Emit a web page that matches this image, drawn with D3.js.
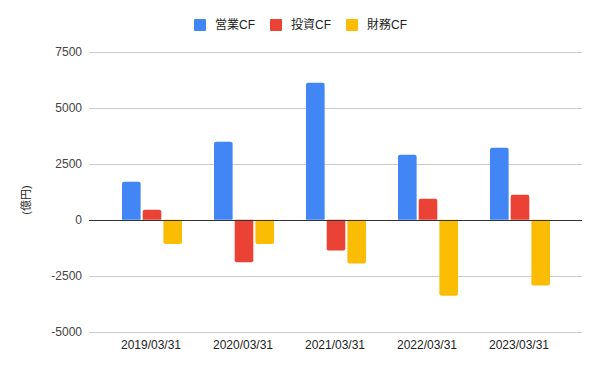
<!DOCTYPE html>
<html>
<head>
<meta charset="utf-8">
<script src="https://cdn.jsdelivr.net/npm/d3@7/dist/d3.min.js"></script>
<style>
  body { margin: 0; background: #fff; }
  text { font-family: "Liberation Sans", Arial, "Noto Sans CJK JP", sans-serif; }
</style>
</head>
<body>
<svg></svg>
<script>
var years = ["2019/03/31", "2020/03/31", "2021/03/31", "2022/03/31", "2023/03/31"];
var seriesNames = ["営業CF", "投資CF", "財務CF"];
var eigyo = [1700, 3480, 6110, 2900, 3210];
var toshi = [450, -1890, -1370, 940, 1120];
var zaimu = [-1080, -1080, -1950, -3380, -2930];
var yTicks = [-5000, -2500, 0, 2500, 5000, 7500];
var colors = ["#4285F4", "#EA4335", "#FBBC04"];

var width = 600, height = 371;
var plotLeft = 89, plotRight = 582;

var svg = d3.select("svg")
    .attr("width", width)
    .attr("height", height);

var y = d3.scaleLinear()
    .domain([-5000, 7500])
    .range([332, 51.5]);

var x = d3.scaleBand()
    .domain(years)
    .range([105, 565]);

var xs = d3.scaleBand()
    .domain([0, 1, 2])
    .range([17, 77])
    .paddingInner(0.1);

// gridlines
svg.append("g")
    .selectAll("line")
    .data(yTicks.filter(function(d) { return d != 0; }))
    .enter().append("line")
    .attr("x1", plotLeft)
    .attr("x2", plotRight)
    .attr("y1", function(d) { return Math.round(y(d)) + 0.5; })
    .attr("y2", function(d) { return Math.round(y(d)) + 0.5; })
    .attr("stroke", "#cccccc")
    .attr("stroke-width", 1);

// y tick labels
svg.append("g")
    .selectAll("text")
    .data(yTicks)
    .enter().append("text")
    .attr("x", 82)
    .attr("y", function(d) { return y(d); })
    .attr("dy", "0.35em")
    .attr("text-anchor", "end")
    .attr("font-size", 12)
    .attr("fill", "#444")
    .text(function(d) { return d; });

// y axis title
svg.append("text")
    .attr("transform", "translate(26,200) rotate(-90)")
    .attr("text-anchor", "middle")
    .attr("dy", "0.35em")
    .attr("font-size", 11)
    .attr("fill", "#222")
    .text("(億円)");

// bars
var allSeries = [eigyo, toshi, zaimu];
var barData = [];
allSeries.forEach(function(vals, si) {
    vals.forEach(function(v, i) {
        barData.push({year: years[i], s: si, value: v});
    });
});

function barPath(d) {
    var x0 = x(d.year) + xs(d.s);
    var w = xs.bandwidth();
    var y0 = y(0), y1 = y(d.value);
    var r = Math.min(2, Math.abs(y1 - y0) / 2);
    var dir = y1 < y0 ? 1 : -1;
    return "M" + x0 + "," + y0 +
        "L" + x0 + "," + (y1 + dir * r) +
        "Q" + x0 + "," + y1 + " " + (x0 + r) + "," + y1 +
        "L" + (x0 + w - r) + "," + y1 +
        "Q" + (x0 + w) + "," + y1 + " " + (x0 + w) + "," + (y1 + dir * r) +
        "L" + (x0 + w) + "," + y0 + "Z";
}

svg.append("g")
    .selectAll("path")
    .data(barData)
    .enter().append("path")
    .attr("d", barPath)
    .attr("fill", function(d) { return colors[d.s]; });

// zero line
svg.append("line")
    .attr("x1", plotLeft)
    .attr("x2", plotRight)
    .attr("y1", Math.round(y(0)) + 0.5)
    .attr("y2", Math.round(y(0)) + 0.5)
    .attr("stroke", "#333")
    .attr("stroke-width", 1);

// x labels
svg.append("g")
    .selectAll("text")
    .data(years)
    .enter().append("text")
    .attr("x", function(d) { return x(d) + x.bandwidth() / 2; })
    .attr("y", 345)
    .attr("dy", "0.35em")
    .attr("text-anchor", "middle")
    .attr("font-size", 12)
    .attr("fill", "#222")
    .text(function(d) { return d; });

// legend
var legendX = [194, 270, 346];
var legend = svg.append("g")
    .selectAll("g")
    .data(seriesNames)
    .enter().append("g")
    .attr("transform", function(d, i) { return "translate(" + legendX[i] + ",19)"; });

legend.append("rect")
    .attr("width", 12)
    .attr("height", 12)
    .attr("rx", 1)
    .attr("fill", function(d, i) { return colors[i]; });

legend.append("text")
    .attr("x", 21)
    .attr("y", 6)
    .attr("dy", "0.35em")
    .attr("font-size", 12)
    .attr("fill", "#222")
    .text(function(d) { return d; });
</script>
</body>
</html>
